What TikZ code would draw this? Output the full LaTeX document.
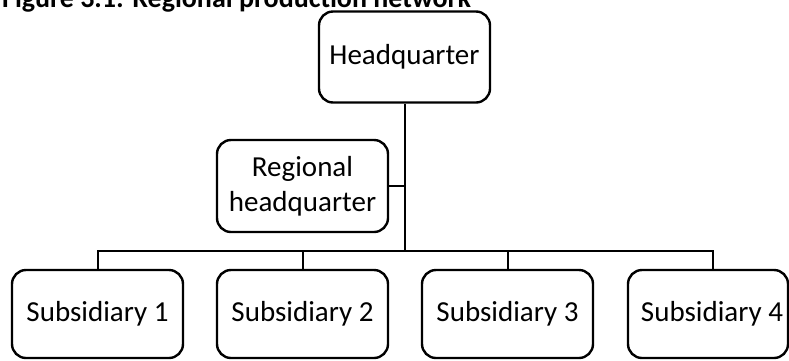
\documentclass[tikz,border=0pt]{standalone}
\usepackage{fontspec}
\setmainfont{Carlito}
\begin{document}
\begin{tikzpicture}[x=1pt,y=-1pt,
  box/.style={draw=black,line width=2.4pt,rounded corners=14pt,minimum width=171pt,inner sep=0pt,align=center,font=\fontsize{29}{35}\selectfont},
  link/.style={draw=black,line width=2pt}]
\useasboundingbox (0,0) rectangle (789,360);
\node[anchor=base west,inner sep=0pt,font=\fontsize{28}{32}\selectfont\bfseries] (title) at (2,7) {Figure 3.1: Regional production network};
\node[box,minimum height=91pt] (hq) at (404.5,57) {Headquarter};
\node[box,minimum height=92pt] (rhq) at (302.5,186) {Regional\\headquarter};
\node[box,minimum height=88pt] (s1) at (97.5,314) {Subsidiary 1};
\node[box,minimum height=88pt] (s2) at (302.5,314) {Subsidiary 2};
\node[box,minimum height=88pt] (s3) at (507.5,314) {Subsidiary 3};
\node[box,minimum height=88pt,minimum width=160pt] (s4) at (708,314) {\hspace*{8pt}Subsidiary 4};
\coordinate (busL) at (97.5,251);
\coordinate (busR) at (713,251);
\coordinate (d4) at (713,270);
\draw[link] (hq.south) -- (hq.south |- busL);
\draw[link] (rhq.east) -- (hq.south |- rhq.east);
\draw[link] (s1.north) -- (busL) -- (busR) -- (d4);
\draw[link] (s2.north) -- (s2.north |- busL);
\draw[link] (s3.north) -- (s3.north |- busL);
\end{tikzpicture}
\end{document}
